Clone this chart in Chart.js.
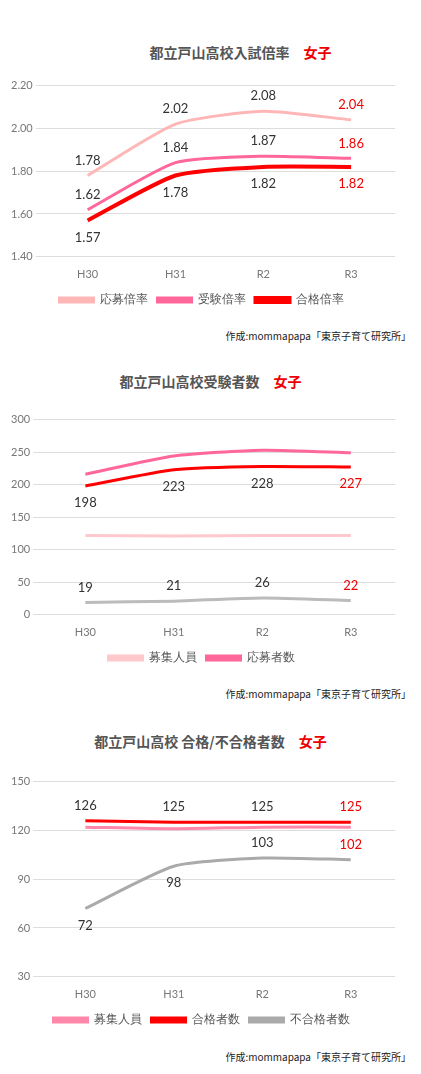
<!DOCTYPE html>
<html><head><meta charset="utf-8">
<script src="https://cdn.jsdelivr.net/npm/chart.js@4"></script>
<style>
body{margin:0;background:#fff;width:421px;height:1074px;position:relative;font-family:"Noto Sans CJK JP",sans-serif;overflow:hidden}
.t{position:absolute;left:0;width:421px;text-align:center;font-size:14px;font-weight:bold;color:#555}
.t span{color:#e00;margin-left:14px}
.c{position:absolute;right:10px;font-size:10px;color:#222}
.w{position:absolute;left:0;width:421px}
</style></head><body>
<div class="t" style="top:42px;padding-left:30px">都立戸山高校入試倍率<span>女子</span></div>
<div class="w" style="top:76px;height:240px"><canvas id="c1"></canvas></div>
<div class="c" style="top:328px">作成:mommapapa「東京子育て研究所」</div>
<div class="t" style="top:371px">都立戸山高校受験者数<span>女子</span></div>
<div class="w" style="top:410px;height:264px"><canvas id="c2"></canvas></div>
<div class="c" style="top:686px">作成:mommapapa「東京子育て研究所」</div>
<div class="t" style="top:731px">都立戸山高校 合格/不合格者数<span>女子</span></div>
<div class="w" style="top:772px;height:264px"><canvas id="c3"></canvas></div>
<div class="c" style="top:1049px">作成:mommapapa「東京子育て研究所」</div>
<script>
const categories=["H30","H31","R2","R3"];
const ratioApply=[1.78,2.02,2.08,2.04];
const ratioExam=[1.62,1.84,1.87,1.86];
const ratioPass=[1.57,1.78,1.82,1.82];
const quota=[122,121,122,122];
const applicants=[216,244,253,249];
const examinees=[198,223,228,227];
const absent=[19,21,26,22];
const passed=[126,125,125,125];
const failed=[72,98,103,102];

const lbl={id:'lbl',afterDatasetsDraw(ch){const c=ch.ctx;c.save();c.font='13px Lato, sans-serif';c.textAlign='center';c.textBaseline='middle';
ch.data.datasets.forEach((ds,i)=>{if(!ds.lab)return;const m=ch.getDatasetMeta(i);m.data.forEach((p,j)=>{const pos=ds.lab[j];c.fillStyle=j==3?'#e00':'#333';
c.fillText(ds.fmt?ds.data[j].toFixed(2):ds.data[j],p.x,p.y+(pos=='a'?-15:17));});});c.restore();}};

function mk(id,sets,min,max,step,fmt){
 new Chart(document.getElementById(id),{type:'line',data:{labels:categories,datasets:sets.map(s=>Object.assign({fill:false,pointRadius:0,tension:0.2,fmt:fmt},s))},
 options:{responsive:true,maintainAspectRatio:false,animation:false,layout:{padding:{left:8,right:26}},
 plugins:{legend:{position:'bottom',labels:{boxWidth:34,boxHeight:4,color:'#555',font:{size:12},filter:(it,d)=>!d.datasets[it.datasetIndex].hideLeg}},tooltip:{enabled:false}},
 scales:{x:{grid:{display:false},border:{display:false},offset:true,ticks:{color:'#777',font:{size:11,family:'Lato'}}},
 y:{min:min,max:max,border:{display:false},grid:{color:'#ddd'},ticks:{stepSize:step,color:'#777',font:{size:11,family:'Lato'},callback:v=>fmt?v.toFixed(2):v}}}},plugins:[lbl]});
}
mk('c1',[
 {label:'応募倍率',data:ratioApply,borderColor:'#ffb6b6',backgroundColor:'#ffb6b6',borderWidth:3,lab:['a','a','a','a']},
 {label:'受験倍率',data:ratioExam,borderColor:'#ff6699',backgroundColor:'#ff6699',borderWidth:3,lab:['a','a','a','a']},
 {label:'合格倍率',data:ratioPass,borderColor:'#ff0000',backgroundColor:'#ff0000',borderWidth:4,lab:['b','b','b','b']}],1.4,2.2,0.2,true);
mk('c2',[
 {label:'募集人員',data:quota,borderColor:'#ffc8cc',backgroundColor:'#ffc8cc',borderWidth:3},
 {label:'応募者数',data:applicants,borderColor:'#ff6699',backgroundColor:'#ff6699',borderWidth:3},
 {label:'受験者数',data:examinees,borderColor:'#ff0000',backgroundColor:'#ff0000',borderWidth:3,hideLeg:true,lab:['b','b','b','b']},
 {label:'欠席者数',data:absent,borderColor:'#bbbbbb',backgroundColor:'#bbbbbb',borderWidth:3,hideLeg:true,lab:['a','a','a','a']}],0,300,50,false);
mk('c3',[
 {label:'募集人員',data:quota,borderColor:'#ff88aa',backgroundColor:'#ff88aa',borderWidth:3},
 {label:'合格者数',data:passed,borderColor:'#ff0000',backgroundColor:'#ff0000',borderWidth:3,lab:['a','a','a','a']},
 {label:'不合格者数',data:failed,borderColor:'#aaaaaa',backgroundColor:'#aaaaaa',borderWidth:3,lab:['b','b','a','a']}],30,150,30,false);
</script></body></html>
